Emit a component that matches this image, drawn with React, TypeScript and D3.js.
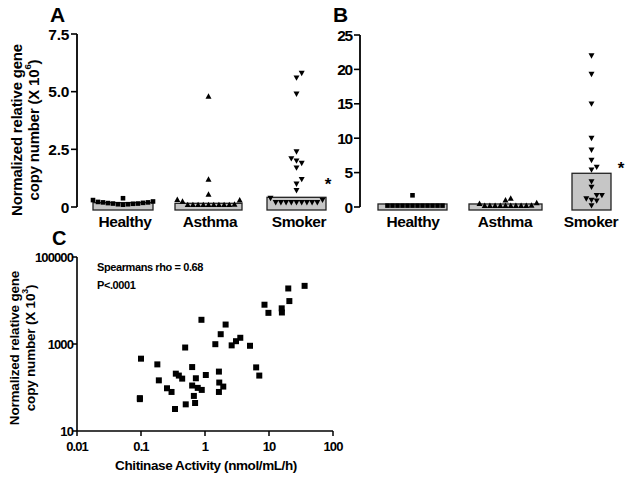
import React from 'react';
import * as d3 from 'd3';

// ---------- DATA ----------
const categories = ['Healthy', 'Asthma', 'Smoker'];

// Panel A (X 10^6)
const aHealthy = [0.38, 0.3, 0.24, 0.22, 0.2, 0.2, 0.18, 0.17, 0.15, 0.15, 0.14, 0.12, 0.12, 0.1];
const aAsthma = [4.8, 1.2, 0.55, 0.32, 0.3, 0.25, 0.12, 0.1, 0.1, 0.1, 0.1, 0.1, 0.1, 0.1, 0.1, 0.1];
const aSmoker = [5.8, 5.6, 4.9, 2.4, 2.1, 2.0, 1.9, 1.7, 1.2, 1.0, 0.72, 0.38, 0.3, 0.2, 0.2, 0.2, 0.2, 0.2, 0.2, 0.2, 0.2, 0.2];
const aBars = [0.19, 0.16, 0.42];
const aTicks = [0, 2.5, 5.0, 7.5];
const aTickLabels = ['0', '2.5', '5.0', '7.5'];

// Panel B
const bHealthy = [1.7, 0.2, 0.2, 0.2, 0.2, 0.2, 0.2, 0.2, 0.2, 0.2, 0.2, 0.2, 0.2];
const bAsthma = [1.26, 1.0, 0.6, 0.5, 0.25, 0.2, 0.2, 0.2, 0.2, 0.2, 0.2, 0.2, 0.2, 0.2];
const bSmoker = [22, 19.3, 15, 10, 8.3, 6.8, 5.8, 5.4, 3.7, 2.9, 1.7, 1.7, 1.2, 1.0, 0.9, 0.2];
const bBars = [0.44, 0.44, 4.9];
const bTicks = [0, 5, 10, 15, 20, 25];

// Panel C
const cChitinase = [36, 20, 20.8, 8.5, 9.8, 15.8, 15.9, 0.88, 2.1, 1.76, 3.56, 3.05, 2.61, 5.05, 1.45, 0.49, 0.1, 0.18, 0.19, 0.35, 0.39, 0.44, 0.63, 0.72, 1.03, 1.65, 6.3, 7.05, 0.255, 0.3, 0.63, 0.77, 0.89, 0.67, 1.67, 1.93, 1.65, 0.096, 0.096, 0.5, 0.7, 0.34];
const cCopy = [21700, 18900, 9700, 8000, 5200, 6600, 5300, 3600, 2800, 1680, 1390, 1160, 930, 910, 990, 830, 460, 340, 146, 208, 188, 160, 295, 163, 194, 232, 290, 188, 96, 79, 111, 98, 88, 64, 130, 105, 79, 57, 54, 41, 44, 32];
const cYTicks = [10, 1000, 100000];
const cXTicks = [0.01, 0.1, 1, 10, 100];
const cXTickLabels = ['0.01', '0.1', '1', '10', '100'];

// ---------- STYLE ----------
const FONT = '"Liberation Sans", Arial, Helvetica, sans-serif';
const BAR_FILL = '#c6c6c6';

type Pt = { x: number; y: number };

function swarm(values: number[], y: (v: number) => number, cx: number, d: number): Pt[] {
  const order = values.map((_, i) => i).sort((a, b) => values[a] - values[b]);
  const placed: Pt[] = [];
  const out: Pt[] = new Array(values.length);
  for (const i of order) {
    const py = y(values[i]);
    for (let k = 0; k < 200; k++) {
      const step = Math.ceil(k / 2);
      const off = k === 0 ? 0 : (k % 2 === 1 ? step : -step) * d;
      const px = cx + off;
      if (!placed.some(p => Math.abs(p.x - px) < d - 0.01 && Math.abs(p.y - py) < d - 0.01)) {
        placed.push({ x: px, y: py });
        out[i] = { x: px, y: py };
        break;
      }
    }
  }
  return out;
}

const squarePath = (s: number) => `M${-s / 2},${-s / 2}h${s}v${s}h${-s}Z`;
const upTri = 'M0,-3L3,2.4L-3,2.4Z';
const downTri = 'M0,3L3,-2.4L-3,-2.4Z';

function Marker({ p, kind, s = 5 }: { p: Pt; kind: string; s?: number }) {
  const d = kind === 'square' ? squarePath(s) : kind === 'up' ? upTri : downTri;
  return <path d={d} transform={`translate(${p.x},${p.y})`} fill="#000" />;
}

function BarPanel(props: {
  label: string; labelX: number; axisX: number; yScale: d3.ScaleLinear<number, number>;
  ticks: number[]; tickLabels: string[]; centers: number[]; widths: number[]; labelCenters: number[];
  bars: number[]; series: number[][]; star: Pt; tickFont: number; ls: number;
}) {
  const { yScale, axisX } = props;
  const kinds = ['square', 'up', 'down'];
  const y0 = yScale(0);
  return (
    <g>
      <text x={props.labelX} y={22} fontSize={21} fontWeight="bold" fontFamily={FONT}>{props.label}</text>
      <line x1={axisX} x2={axisX} y1={yScale(props.ticks[props.ticks.length - 1])} y2={y0} stroke="#000" strokeWidth={1.8} />
      {props.ticks.map((t, i) => (
        <g key={i}>
          <line x1={axisX - 6} x2={axisX} y1={yScale(t)} y2={yScale(t)} stroke="#000" strokeWidth={1.6} />
          <text x={axisX - 8} y={yScale(t)} dy="0.36em" textAnchor="end" fontSize={props.tickFont} fontWeight="bold"
            fontFamily={FONT} letterSpacing={props.ls}>{props.tickLabels[i]}</text>
        </g>
      ))}
      {props.bars.map((b, i) => (
        <rect key={i} x={props.centers[i] - props.widths[i] / 2} width={props.widths[i]}
          y={yScale(b)} height={y0 + 3 - yScale(b)} fill={BAR_FILL} stroke="#222" strokeWidth={1.3} />
      ))}
      {props.series.map((vals, si) =>
        swarm(vals, yScale, props.centers[si], si === 0 ? 5 : 5.2).map((p, j) => (
          <Marker key={si + '-' + j} p={p} kind={kinds[si]} s={4.6} />
        ))
      )}
      {categories.map((c, i) => (
        <text key={c} x={props.labelCenters[i]} y={227} textAnchor="middle" fontSize={15.5} fontWeight="bold"
          fontFamily={FONT} letterSpacing={-0.4}>{c}</text>
      ))}
      <text x={props.star.x} y={props.star.y + 8} textAnchor="middle" fontSize={17} fontWeight="bold" fontFamily={FONT}>*</text>
    </g>
  );
}

function YLabel({ x1, x2, cy, size, exp }: { x1: number; x2: number; cy: number; size: number; exp: string }) {
  return (
    <g fontFamily={FONT} fontSize={size} fontWeight="bold" letterSpacing={-0.2}>
      <text transform={`translate(${x1},${cy}) rotate(-90)`} textAnchor="middle" dominantBaseline="central">Normalized relative gene</text>
      <text transform={`translate(${x2},${cy}) rotate(-90)`} textAnchor="middle" dominantBaseline="central">
        copy number (X 10<tspan fontSize={size * 0.65} dy={-size * 0.4}>{exp}</tspan><tspan dy={size * 0.4}>)</tspan>
      </text>
    </g>
  );
}

export default function App() {
  const yA = d3.scaleLinear().domain([0, 7.5]).range([207, 34]);
  const yB = d3.scaleLinear().domain([0, 25]).range([207, 35]);
  const xC = d3.scaleLog().domain([0.01, 100]).range([77, 333]);
  const yC = d3.scaleLog().domain([10, 100000]).range([431, 257]);

  return (
    <svg width={629} height={482} style={{ position: 'absolute', left: 0, top: 0, background: '#fff' }}>
      <rect width={629} height={482} fill="#fff" />
      <YLabel x1={16} x2={33} cy={130} size={15} exp="6" />
      <BarPanel label="A" labelX={50} axisX={77} yScale={yA} ticks={aTicks} tickLabels={aTickLabels}
        centers={[123, 208.5, 296.5]} widths={[60, 67, 59]} labelCenters={[125, 210, 299]}
        bars={aBars} series={[aHealthy, aAsthma, aSmoker]} star={{ x: 328, y: 182 }} tickFont={15.5} ls={-0.3} />
      <BarPanel label="B" labelX={333} axisX={360} yScale={yB} ticks={bTicks} tickLabels={bTicks.map(String)}
        centers={[412.5, 505.5, 591.5]} widths={[69, 73, 39]} labelCenters={[413, 505, 591]}
        bars={bBars} series={[bHealthy, bAsthma, bSmoker]} star={{ x: 621, y: 166 }} tickFont={15.5} ls={-1.2} />

      {/* Panel C */}
      <text x={52} y={245} fontSize={20} fontWeight="bold" fontFamily={FONT}>C</text>
      <YLabel x1={14} x2={30} cy={348} size={13.5} exp="3" />
      <line x1={77} x2={77} y1={yC(100000)} y2={yC(10)} stroke="#000" strokeWidth={1.6} />
      <line x1={77} x2={xC(100)} y1={yC(10)} y2={yC(10)} stroke="#000" strokeWidth={1.6} />
      {cYTicks.map(t => (
        <g key={t}>
          <line x1={72} x2={77} y1={yC(t)} y2={yC(t)} stroke="#000" strokeWidth={1.5} />
          <text x={73} y={yC(t)} dy="0.36em" textAnchor="end" fontSize={13} fontWeight="bold" fontFamily={FONT}
            letterSpacing={-0.9}>{t}</text>
        </g>
      ))}
      {cXTicks.map((t, i) => (
        <g key={t}>
          <line x1={xC(t)} x2={xC(t)} y1={yC(10)} y2={yC(10) + 5} stroke="#000" strokeWidth={1.5} />
          <text x={xC(t)} y={451} textAnchor="middle" fontSize={13} fontWeight="bold" fontFamily={FONT}
            letterSpacing={-0.9}>{cXTickLabels[i]}</text>
        </g>
      ))}
      <text x={206} y={470} textAnchor="middle" fontSize={13.5} fontWeight="bold" fontFamily={FONT} letterSpacing={-0.4}>
        Chitinase Activity (nmol/mL/h)
      </text>
      <text x={97} y={271} fontSize={11} fontWeight="bold" fontFamily={FONT} letterSpacing={-0.4}>Spearmans rho = 0.68</text>
      <text x={97} y={289} fontSize={11} fontWeight="bold" fontFamily={FONT} letterSpacing={-0.4}>P&lt;.0001</text>
      {cChitinase.map((v, i) => (
        <Marker key={i} p={{ x: xC(v), y: yC(cCopy[i]) }} kind="square" s={6} />
      ))}
    </svg>
  );
}
